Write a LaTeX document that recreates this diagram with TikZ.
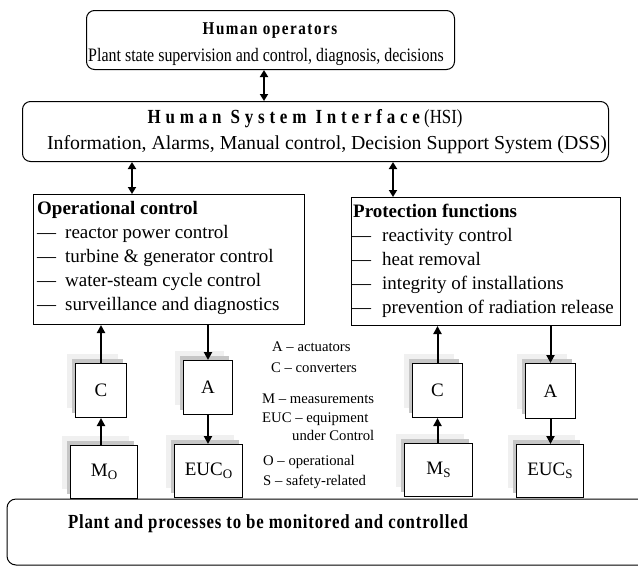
\documentclass[tikz,border=0pt]{standalone}
\usepackage{fontspec}
\setmainfont{Liberation Serif}
\newfontfamily\cnd{Liberation Serif}[FakeStretch=0.84]
\newfontfamily\cndsp{Liberation Serif}[FakeStretch=0.84,LetterSpace=8.5]
\newfontfamily\hsisp{Liberation Serif}[FakeStretch=0.85,LetterSpace=24]
\newfontfamily\plantsp{Liberation Serif}[FakeStretch=0.84,LetterSpace=4]
\usetikzlibrary{arrows.meta,shadows}
\newcommand{\subO}[1]{{\fontsize{13}{13}\selectfont\raisebox{-3pt}{#1}}}
\begin{document}
\begin{tikzpicture}[x=1pt,y=-1pt,
  rbox/.style={draw,line width=1pt,rounded corners=8pt,anchor=north west,inner sep=0pt},
  bigbox/.style={draw,line width=1pt,anchor=north west,inner sep=0pt},
  smallbox/.style={draw,line width=1pt,fill=white,anchor=north west,inner sep=0pt,
     font=\fontsize{19}{22}\selectfont,
     general shadow={fill=gray!12,shadow xshift=-9pt,shadow yshift=10pt},
     general shadow={fill=gray!45,shadow xshift=-4pt,shadow yshift=5pt}},
  conn/.style={line width=2pt,-{Triangle[length=8pt,width=8pt]}},
  dconn/.style={line width=2pt,{Triangle[length=7pt,width=8pt]}-{Triangle[length=7pt,width=8pt]}},
  lst/.style={anchor=base west,inner sep=0pt,font=\fontsize{19}{22}\selectfont},
  leg/.style={anchor=base west,inner sep=0pt,font=\fontsize{14.7}{17}\selectfont},
  txt/.style={anchor=base,inner sep=0pt}]
\clip (0,0) rectangle (638,566);
% top boxes
\node[rbox,minimum width=368pt,minimum height=59pt] (ops) at (86,10) {};
\node[txt,font=\fontsize{18}{20}\cndsp\bfseries] (opsT) at (270,34) {Human operators};
\node[txt,font=\fontsize{19}{22}\cnd] (opsS) at (266,61) {Plant state supervision and control, diagnosis, decisions};
\node[rbox,minimum width=586pt,minimum height=60pt] (hsi) at (22,101) {};
\node[txt,font=\fontsize{20}{22}\selectfont] (hsiT) at (305,123) {{\hsisp\bfseries Human System Interface}{\cnd\ (HSI)}};
\node[txt,font=\fontsize{19.8}{22}\selectfont] (hsiS) at (327,149) {Information, Alarms, Manual control, Decision Support System (DSS)};
% function boxes
\node[bigbox,minimum width=271pt,minimum height=130pt] (opc) at (33,194) {};
\node[lst,font=\fontsize{19}{22}\bfseries] (opcT) at (37,214) {Operational control};
\foreach \t [count=\i] in {reactor power control,turbine \& generator control,water-steam cycle control,surveillance and diagnostics}{
  \node[lst] (opcD\i) at (37,214+24*\i) {—};
  \node[lst] (opcL\i) at (65,214+24*\i) {\t};
}
\node[bigbox,minimum width=269pt,minimum height=128pt] (prot) at (351,197) {};
\node[lst,font=\fontsize{19}{22}\bfseries] (protT) at (353,217) {Protection functions};
\foreach \t [count=\i] in {reactivity control,heat removal,integrity of installations,prevention of radiation release}{
  \node[lst] (protD\i) at (352,217+24*\i) {—};
  \node[lst] (protL\i) at (382,217+24*\i) {\t};
}
% small boxes
\node[smallbox,minimum width=51pt,minimum height=54pt] (cO) at (75,363) {C};
\node[smallbox,minimum width=49pt,minimum height=54pt] (aO) at (183,360) {A};
\node[smallbox,minimum width=67pt,minimum height=53pt] (mO) at (70,445) {M\subO{O}};
\node[smallbox,minimum width=68pt,minimum height=53pt] (eO) at (174,444) {EUC\subO{O}};
\node[smallbox,minimum width=50pt,minimum height=54pt] (cS) at (412,363) {C};
\node[smallbox,minimum width=50pt,minimum height=55pt] (aS) at (525,363) {A};
\node[smallbox,minimum width=68pt,minimum height=53pt] (mS) at (404,443) {M\subO{S}};
\node[smallbox,minimum width=67pt,minimum height=53pt] (eS) at (516,444) {EUC\subO{S}};
% plant
\draw[line width=1pt,rounded corners=9pt] (660,499) -- (7,499) -- (7,565) -- (660,565);
\node[txt,font=\fontsize{20}{22}\plantsp\bfseries] (plant) at (268,528) {Plant and processes to be monitored and controlled};
% legend
\node[leg] (lA) at (272,351) {A – actuators};
\node[leg] (lC) at (271,372) {C – converters};
\node[leg] (lM) at (262,403) {M – measurements};
\node[leg] (lE) at (262,422) {EUC – equipment};
\node[leg] (lE2) at (292,440) {under Control};
\node[leg] (lO) at (263,465) {O – operational};
\node[leg] (lS) at (263,485) {S – safety-related};
% connectors
\draw[dconn] (264,0 |- ops.south) -- (264,0 |- hsi.north);
\draw[dconn] (132,0 |- hsi.south) -- (132,0 |- opc.north);
\draw[dconn] (393,0 |- hsi.south) -- (393,0 |- prot.north);
\draw[conn] (cO.north) -- (cO.north |- opc.south);
\draw[conn] (aO.north |- opc.south) -- (aO.north);
\draw[conn] (cO.south |- mO.north) -- (cO.south);
\draw[conn] (aO.south) -- (aO.south |- eO.north);
\draw[conn] (cS.north) -- (cS.north |- prot.south);
\draw[conn] (aS.north |- prot.south) -- (aS.north);
\draw[conn] (cS.south |- mS.north) -- (cS.south);
\draw[conn] (aS.south) -- (aS.south |- eS.north);
\end{tikzpicture}
\end{document}
